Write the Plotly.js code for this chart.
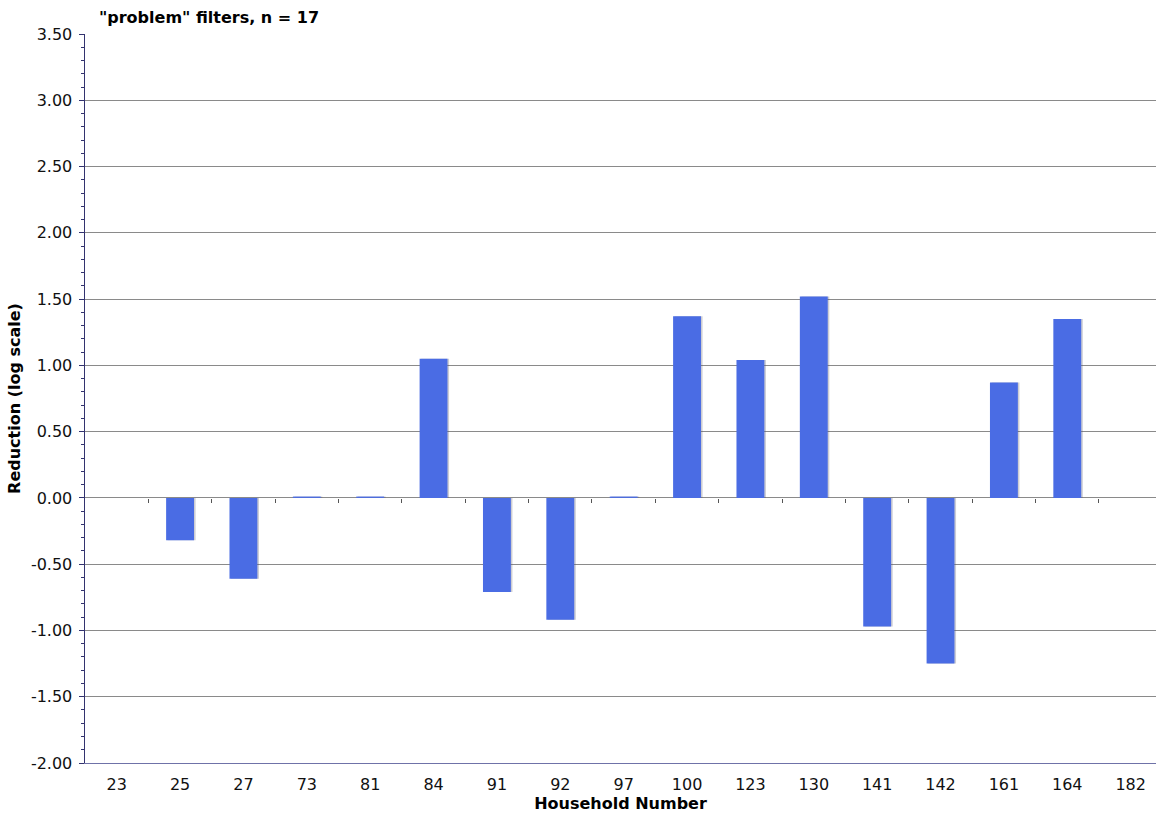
<!DOCTYPE html>
<html>
<head>
<meta charset="utf-8">
<script src="https://cdn.plot.ly/plotly-3.0.1.min.js"></script>
<style>html,body{margin:0;padding:0;background:#fff;}#chart{width:1156px;height:815px;}</style>
</head>
<body>
<div id="chart"></div>
<script>
const households = ["23","25","27","73","81","84","91","92","97","100","123","130","141","142","161","164","182"];
const reduction = [0, -0.32, -0.61, 0.01, 0.01, 1.05, -0.71, -0.92, 0.01, 1.37, 1.04, 1.52, -0.97, -1.25, 0.87, 1.35, 0];
const yTicks = [-2.0, -1.5, -1.0, -0.5, 0, 0.5, 1.0, 1.5, 2.0, 2.5, 3.0, 3.5];
const yTickText = ["-2.00","-1.50","-1.00","-0.50","0.00","0.50","1.00","1.50","2.00","2.50","3.00","3.50"];
const chartTitle = '"problem" filters, n = 17';
const xTitle = 'Household Number';
const yTitle = 'Reduction (log scale)';

const idx = households.map((_, i) => i);
const boundaries = households.slice(1).map((_, i) => i + 0.5);
const font = "DejaVu Sans, Verdana, sans-serif";
const yMin = -2.0, yMax = 3.5;

const shadow = {
  type: 'bar', x: households, y: reduction, width: 0.44, offset: -0.195,
  marker: {color: 'rgba(90,90,110,0.3)', line: {width: 0}},
  hoverinfo: 'skip', showlegend: false
};
const bars = {
  type: 'bar', x: households, y: reduction, width: 0.44, offset: -0.22,
  marker: {color: '#4a6ce4', line: {width: 0}},
  showlegend: false
};
const helper = {
  type: 'scatter', mode: 'markers', x: idx, y: reduction, xaxis: 'x2',
  marker: {opacity: 0}, hoverinfo: 'skip', showlegend: false
};

const layout = {
  width: 1156, height: 815,
  margin: {l: 85, r: 0, t: 34, b: 52},
  paper_bgcolor: '#ffffff', plot_bgcolor: '#ffffff',
  barmode: 'overlay',
  font: {family: font, size: 16, color: '#111'},
  title: {
    text: '<b>' + chartTitle + '</b>',
    font: {family: font, size: 16, color: '#000'},
    xref: 'paper', x: 0.013, xanchor: 'left',
    yref: 'container', y: 1 - 17/815, yanchor: 'middle'
  },
  xaxis: {
    type: 'category', range: [-0.5, 16.4],
    showgrid: false, zeroline: false,
    showline: true, linecolor: '#6f72a8', linewidth: 1,
    ticks: '', ticklabelstandoff: 7,
    tickfont: {family: font, size: 16, color: '#111'},
    title: {text: '<b>' + xTitle + '</b>', font: {family: font, size: 16, color: '#000'}, standoff: 1},
    fixedrange: true
  },
  xaxis2: {
    overlaying: 'x', anchor: 'free', position: (0 - yMin) / (yMax - yMin),
    range: [-0.5, 16.4], showgrid: false, zeroline: false, showline: false,
    tickmode: 'array', tickvals: boundaries, ticks: 'outside', ticklen: 4,
    tickcolor: '#555', showticklabels: false, fixedrange: true
  },
  yaxis: {
    range: [yMin, yMax],
    tickmode: 'array', tickvals: yTicks, ticktext: yTickText,
    ticks: 'outside', ticklen: 5, tickcolor: '#33336f',
    minor: {dtick: 0.1, ticks: 'outside', ticklen: 3, tickcolor: '#33336f', showgrid: false},
    showline: true, linecolor: '#33336f', linewidth: 1.5,
    showgrid: true, gridcolor: '#8a8a8a', gridwidth: 1,
    zeroline: false, ticklabelstandoff: 3,
    tickfont: {family: font, size: 16, color: '#111'},
    title: {text: '<b>' + yTitle + '</b>', font: {family: font, size: 16, color: '#000'}, standoff: 6},
    fixedrange: true
  }
};

Plotly.newPlot('chart', [shadow, bars, helper], layout, {displayModeBar: false, staticPlot: true});
</script>
</body>
</html>
